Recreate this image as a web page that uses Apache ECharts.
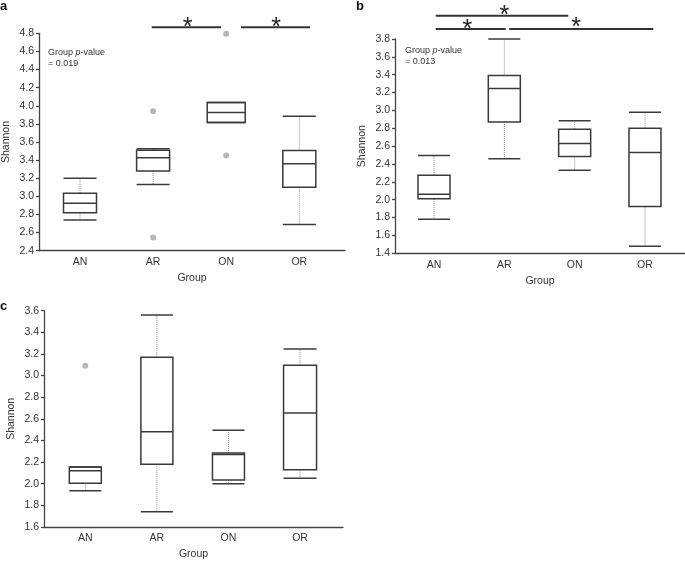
<!DOCTYPE html>
<html>
<head>
<meta charset="utf-8">
<script src="https://cdn.jsdelivr.net/npm/echarts@6/dist/echarts.min.js"></script>
<style>html,body{margin:0;padding:0;background:#fff}#c{width:685px;height:561px}</style>
</head>
<body>
<div id="c"></div>
<script>
// ---- data ----
const categories = ['AN', 'AR', 'ON', 'OR'];
// each row: [lower whisker, Q1, median, Q3, upper whisker]
const boxA = [
  [2.74, 2.82, 2.925, 3.035, 3.20],
  [3.13, 3.28, 3.425, 3.51, 3.525],
  [3.815, 3.815, 3.925, 4.035, 4.035],
  [2.69, 3.10, 3.36, 3.505, 3.885]
];
const outliersA = [[2, 3.94], [2, 2.545], [3, 4.795], [3, 3.45]];
const boxB = [
  [1.78, 2.01, 2.06, 2.275, 2.495],
  [2.46, 2.87, 3.245, 3.39, 3.80],
  [2.33, 2.485, 2.63, 2.79, 2.885],
  [1.48, 1.925, 2.53, 2.80, 2.98]
];
const outliersB = [];
const boxC = [
  [1.935, 2.005, 2.12, 2.155, 2.155],
  [1.74, 2.18, 2.48, 3.17, 3.56],
  [2.00, 2.035, 2.27, 2.285, 2.495],
  [2.05, 2.13, 2.655, 3.095, 3.245]
];
const outliersC = [[1, 3.09]];
const yTicksA = [2.4, 4.8];
const yTicksB = [1.4, 3.8];
const yTicksC = [1.6, 3.6];
const pValueA = '0.019';
const pValueB = '0.013';

// ---- styling / layout ----
const FONT = 'Liberation Sans, Arial, sans-serif';
const boxWidths = [[33, 33, 38, 33], [32, 32, 32, 32], [32, 32, 32, 33]];
const grids = [
  {left: 37, top: 33.3, width: 308, height: 217.4},
  {left: 395, top: 39, width: 290, height: 214.3},
  {left: 44, top: 310.7, width: 299, height: 217.6}
];
const xRanges = [[0.439, 4.625], [0.4455, 4.569], [0.423, 4.60]];
const yRanges = [yTicksA, yTicksB, yTicksC];

function boxSeries(gi, data) {
  return {
    type: 'custom',
    xAxisIndex: gi, yAxisIndex: gi,
    data: data.map((d, i) => [i + 1].concat(d)),
    encode: {x: 0, y: [1, 2, 3, 4, 5]},
    renderItem: function (params, api) {
      const x = api.value(0);
      const w = boxWidths[gi][params.dataIndex] / 2;
      const p = k => api.coord([x, api.value(k)]);
      const lo = p(1), q1 = p(2), md = p(3), q3 = p(4), hi = p(5);
      const cx = lo[0];
      const solid = {stroke: '#3a3a3a', lineWidth: 1.5, fill: null};
      const dot = {stroke: '#8a8a8a', lineWidth: 1, lineDash: [1, 1], fill: null};
      return {
        type: 'group',
        children: [
          {type: 'line', shape: {x1: cx, y1: q3[1], x2: cx, y2: hi[1]}, style: dot},
          {type: 'line', shape: {x1: cx, y1: q1[1], x2: cx, y2: lo[1]}, style: dot},
          {type: 'rect', shape: {x: cx - w, y: q3[1], width: 2 * w, height: q1[1] - q3[1]},
            style: {fill: '#fff', stroke: '#3a3a3a', lineWidth: 1.5}},
          {type: 'line', shape: {x1: cx - w, y1: md[1], x2: cx + w, y2: md[1]}, style: solid},
          {type: 'line', shape: {x1: cx - w, y1: hi[1], x2: cx + w, y2: hi[1]}, style: solid},
          {type: 'line', shape: {x1: cx - w, y1: lo[1], x2: cx + w, y2: lo[1]}, style: solid}
        ]
      };
    }
  };
}
function outlierSeries(gi, data) {
  return {
    type: 'scatter', xAxisIndex: gi, yAxisIndex: gi, data: data,
    symbol: 'circle', symbolSize: 6, itemStyle: {color: '#a5a5a5'}, silent: true
  };
}

const axisLineStyle = {color: '#444', width: 1.3};
const labelStyle = {color: '#333', fontSize: 10.5, fontFamily: FONT};
const star = (x, y) => ({type: 'text', x: x, y: y,
  style: {text: '*', font: '25px ' + FONT, fill: '#222', align: 'center', verticalAlign: 'middle'}});
const bar = (x1, x2, y) => ({type: 'line', shape: {x1: x1, y1: y, x2: x2, y2: y}, style: {stroke: '#333', lineWidth: 2}});
const pText = (x, y, v) => ({type: 'text', x: x, y: y, style: {text: '{n|Group }{i|p}{n|-value}\n{n|= ' + v + '}',
  rich: {n: {fontSize: 9, fontFamily: FONT, fill: '#333', lineHeight: 11},
         i: {fontSize: 9, fontStyle: 'italic', fontFamily: FONT, fill: '#333', lineHeight: 11}}}});

const option = {
  animation: false,
  backgroundColor: '#fff',
  grid: grids,
  xAxis: [0, 1, 2].map(i => ({
    gridIndex: i, type: 'value', min: xRanges[i][0], max: xRanges[i][1],
    splitLine: {show: false},
    axisLine: {show: true, onZero: false, lineStyle: axisLineStyle},
    axisTick: {show: false},
    axisLabel: Object.assign({customValues: [1, 2, 3, 4], formatter: v => categories[Math.round(v) - 1], margin: 6}, labelStyle),
    name: 'Group', nameLocation: 'middle', nameGap: 22,
    nameTextStyle: labelStyle
  })),
  yAxis: [0, 1, 2].map(i => ({
    gridIndex: i, type: 'value', min: yRanges[i][0], max: yRanges[i][1], interval: 0.2,
    splitLine: {show: false},
    axisLine: {show: true, onZero: false, lineStyle: axisLineStyle},
    axisTick: {show: true, length: 3, lineStyle: axisLineStyle},
    axisLabel: Object.assign({formatter: v => v.toFixed(1), margin: 5}, labelStyle),
    name: 'Shannon', nameLocation: 'middle', nameGap: 27,
    nameTextStyle: labelStyle
  })),
  series: [
    boxSeries(0, boxA), outlierSeries(0, outliersA),
    boxSeries(1, boxB), outlierSeries(1, outliersB),
    boxSeries(2, boxC), outlierSeries(2, outliersC)
  ],
  graphic: [
    {type: 'text', left: 0, top: 0, style: {text: 'a', font: 'bold 13px ' + FONT, fill: '#111'}},
    {type: 'text', left: 356, top: 0, style: {text: 'b', font: 'bold 13px ' + FONT, fill: '#111'}},
    {type: 'text', left: 0, top: 300, style: {text: 'c', font: 'bold 13px ' + FONT, fill: '#111'}},
    pText(48, 47, pValueA),
    pText(405, 45, pValueB),
    bar(151.7, 221, 27.3), bar(241, 310, 27.3),
    star(187.7, 27.8), star(276, 27.8),
    bar(435.7, 568.3, 15.7), bar(435.7, 505.7, 29), bar(509.3, 653.3, 29),
    star(504.3, 16.5), star(467.3, 29.8), star(576, 27.8)
  ]
};
const chart = echarts.init(document.getElementById('c'), null, {renderer: 'canvas'});
chart.setOption(option);
</script>
</body>
</html>
